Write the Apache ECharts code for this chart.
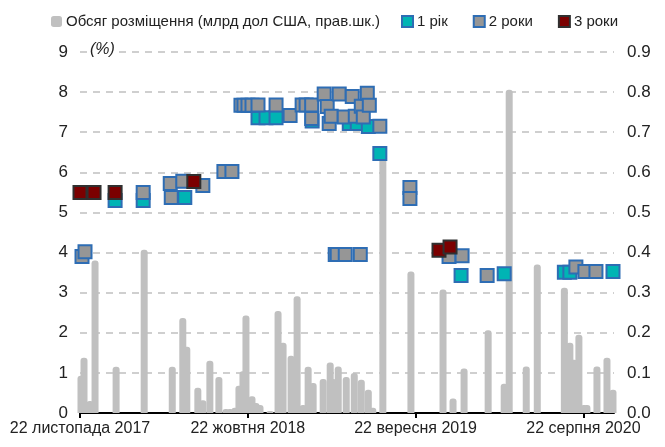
<!DOCTYPE html>
<html>
<head>
<meta charset="utf-8">
<script src="https://cdn.jsdelivr.net/npm/echarts@6/dist/echarts.min.js"></script>
<style>
  html, body { margin: 0; padding: 0; background: #fff; }
  #chart { width: 665px; height: 447px; }
</style>
</head>
<body>
<div id="chart"></div>
<script>
// x values are days counted from 22 Nov 2017
var xTickLabels = ['22 листопада 2017', '22 жовтня 2018', '22 вересня 2019', '22 серпня 2020'];
var tickStep = 334.67;
var xMax = 1065;

// placement volume, bn USD (right scale)
var volDays = [2, 8, 20, 30, 72, 128, 184, 205, 213, 235, 245, 259, 277, 291, 299, 309, 317, 325, 331, 343,
	351, 359, 379, 395, 405, 421, 433, 445, 455, 465, 485, 499, 505, 515, 531, 547, 561, 575, 584, 604,
	660, 724, 744, 766, 814, 846, 856, 890, 912, 966, 977, 985, 995, 1005, 1011, 1031, 1051, 1063];
var volValues = [0.093, 0.138, 0.03, 0.38, 0.115, 0.407, 0.115, 0.237, 0.165, 0.063, 0.032, 0.13, 0.09, 0.01, 0.01, 0.013, 0.068, 0.104, 0.243, 0.042,
	0.025, 0.02, 0.005, 0.254, 0.175, 0.143, 0.291, 0.02, 0.115, 0.075, 0.085, 0.126, 0.085, 0.116, 0.09, 0.10, 0.083, 0.058, 0.013, 0.64,
	0.353, 0.308, 0.036, 0.111, 0.206, 0.073, 0.806, 0.116, 0.37, 0.312, 0.175, 0.133, 0.195, 0.02, 0.02, 0.116, 0.138, 0.058];

// 1 year yields, %
var y1Days = [70, 126, 209, 355, 371, 391, 463, 537, 553, 575, 598, 760, 846, 966, 977, 1063];
var y1Values = [5.3, 5.3, 5.37, 7.36, 7.36, 7.36, 7.28, 7.22, 7.22, 7.14, 6.47, 3.43, 3.47, 3.51, 3.51, 3.53];

// 2 year yields, %
var y2Days = [4, 10, 126, 180, 182, 205, 245, 287, 303, 321, 327, 335, 343, 355, 391, 419, 443, 451, 462, 462,
	487, 493, 497, 501, 517, 527, 543, 549, 561, 565, 573, 577, 598, 509, 513, 529, 559, 658, 658, 736, 762, 812, 989, 1007, 1029];
var y2Values = [3.9, 4.02, 5.5, 5.72, 5.37, 5.78, 5.67, 6.02, 6.02, 7.67, 7.67, 7.67, 7.67, 7.68, 7.68, 7.42, 7.68, 7.68, 7.68, 7.34,
	7.95, 7.64, 7.22, 7.40, 7.95, 7.38, 7.89, 7.40, 7.65, 7.38, 7.97, 7.67, 7.15, 3.95, 3.95, 3.95, 3.95, 5.62, 5.35, 3.90, 3.92, 3.43, 3.64, 3.53, 3.53];

// 3 year yields, %
var y3Days = [0, 28, 70, 227, 716, 738];
var y3Values = [5.5, 5.5, 5.5, 5.77, 4.06, 4.14];

function pairs(days, vals) {
	var out = [];
	for (var i = 0; i < days.length; i++) {
		out.push([days[i], vals[i]]);
	}
	return out;
}

var FONT = '"Liberation Sans Narrow", "Liberation Sans", Arial, sans-serif';
var chart = echarts.init(document.getElementById('chart'));

var gridLine = { show: true, lineStyle: { color: '#C0C0C0', width: 1.5, type: [7, 6] } };
var legendText = { fontFamily: FONT, fontSize: 15, color: '#222', padding: [0, 0, 0, -1] };

var option = {
	animation: false,
	textStyle: { fontFamily: FONT },
	grid: { left: 80, right: 51, top: 52, bottom: 34 },
	legend: [
		{
			top: 9,
			left: 46,
			itemWidth: 11,
			itemHeight: 11,
			textStyle: legendText,
			data: [{ name: 'Обсяг розміщення (млрд дол США, прав.шк.)', icon: 'roundRect' }]
		},
		{
			top: 9,
			left: 396,
			itemWidth: 11,
			itemHeight: 11,
			itemGap: 25,
			textStyle: legendText,
			data: [
				{ name: '1 рік', icon: 'rect' },
				{ name: '2 роки', icon: 'rect' },
				{ name: '3 роки', icon: 'rect' }
			]
		}
	],
	xAxis: {
		type: 'value',
		min: 0,
		max: xMax,
		interval: tickStep,
		splitLine: { show: false },
		axisLine: { lineStyle: { color: '#000', width: 2 } },
		axisTick: { show: true, length: 5, lineStyle: { color: '#000', width: 2 } },
		axisLabel: {
			fontSize: 16,
			color: '#222',
			margin: 8,
			showMaxLabel: false,
			formatter: function (v) {
				var i = Math.round(v / tickStep);
				return xTickLabels[i] || '';
			}
		}
	},
	yAxis: [
		{
			type: 'value',
			min: 0,
			max: 9,
			interval: 1,
			axisLine: { show: false },
			axisTick: { show: false },
			axisLabel: { fontSize: 17, color: '#222', margin: 12 },
			splitLine: gridLine
		},
		{
			type: 'value',
			min: 0,
			max: 0.9,
			interval: 0.1,
			position: 'right',
			axisLine: { show: false },
			axisTick: { show: false },
			axisLabel: {
				fontSize: 17,
				color: '#222',
				margin: 13,
				formatter: function (v) { return v.toFixed(1); }
			},
			splitLine: { show: false }
		}
	],
	graphic: [
		{
			type: 'text',
			left: 87,
			top: 42,
			z: 10,
			style: {
				text: '(%)',
				font: 'italic 16px ' + FONT,
				fill: '#222',
				backgroundColor: '#fff',
				padding: [0, 3, 0, 3]
			}
		}
	],
	series: [
		{
			name: 'Обсяг розміщення (млрд дол США, прав.шк.)',
			type: 'bar',
			yAxisIndex: 1,
			barWidth: 7,
			barGap: '-100%',
			itemStyle: { color: '#C0C0C0', borderRadius: [3, 3, 0, 0] },
			data: pairs(volDays, volValues),
			z: 1
		},
		{
			name: '1 рік',
			type: 'scatter',
			symbol: 'rect',
			symbolSize: 13,
			clip: false,
			itemStyle: { color: '#00B4B4', borderColor: '#2E6DB4', borderWidth: 2, opacity: 1 },
			data: pairs(y1Days, y1Values),
			z: 3
		},
		{
			name: '2 роки',
			type: 'scatter',
			symbol: 'rect',
			symbolSize: 13,
			clip: false,
			itemStyle: { color: '#969696', borderColor: '#2E6DB4', borderWidth: 2, opacity: 1 },
			data: pairs(y2Days, y2Values),
			z: 4
		},
		{
			name: '3 роки',
			type: 'scatter',
			symbol: 'rect',
			symbolSize: 13,
			clip: false,
			itemStyle: { color: '#7B0000', borderColor: '#303030', borderWidth: 2, opacity: 1 },
			data: pairs(y3Days, y3Values),
			z: 5
		}
	]
};

chart.setOption(option);
</script>
</body>
</html>
